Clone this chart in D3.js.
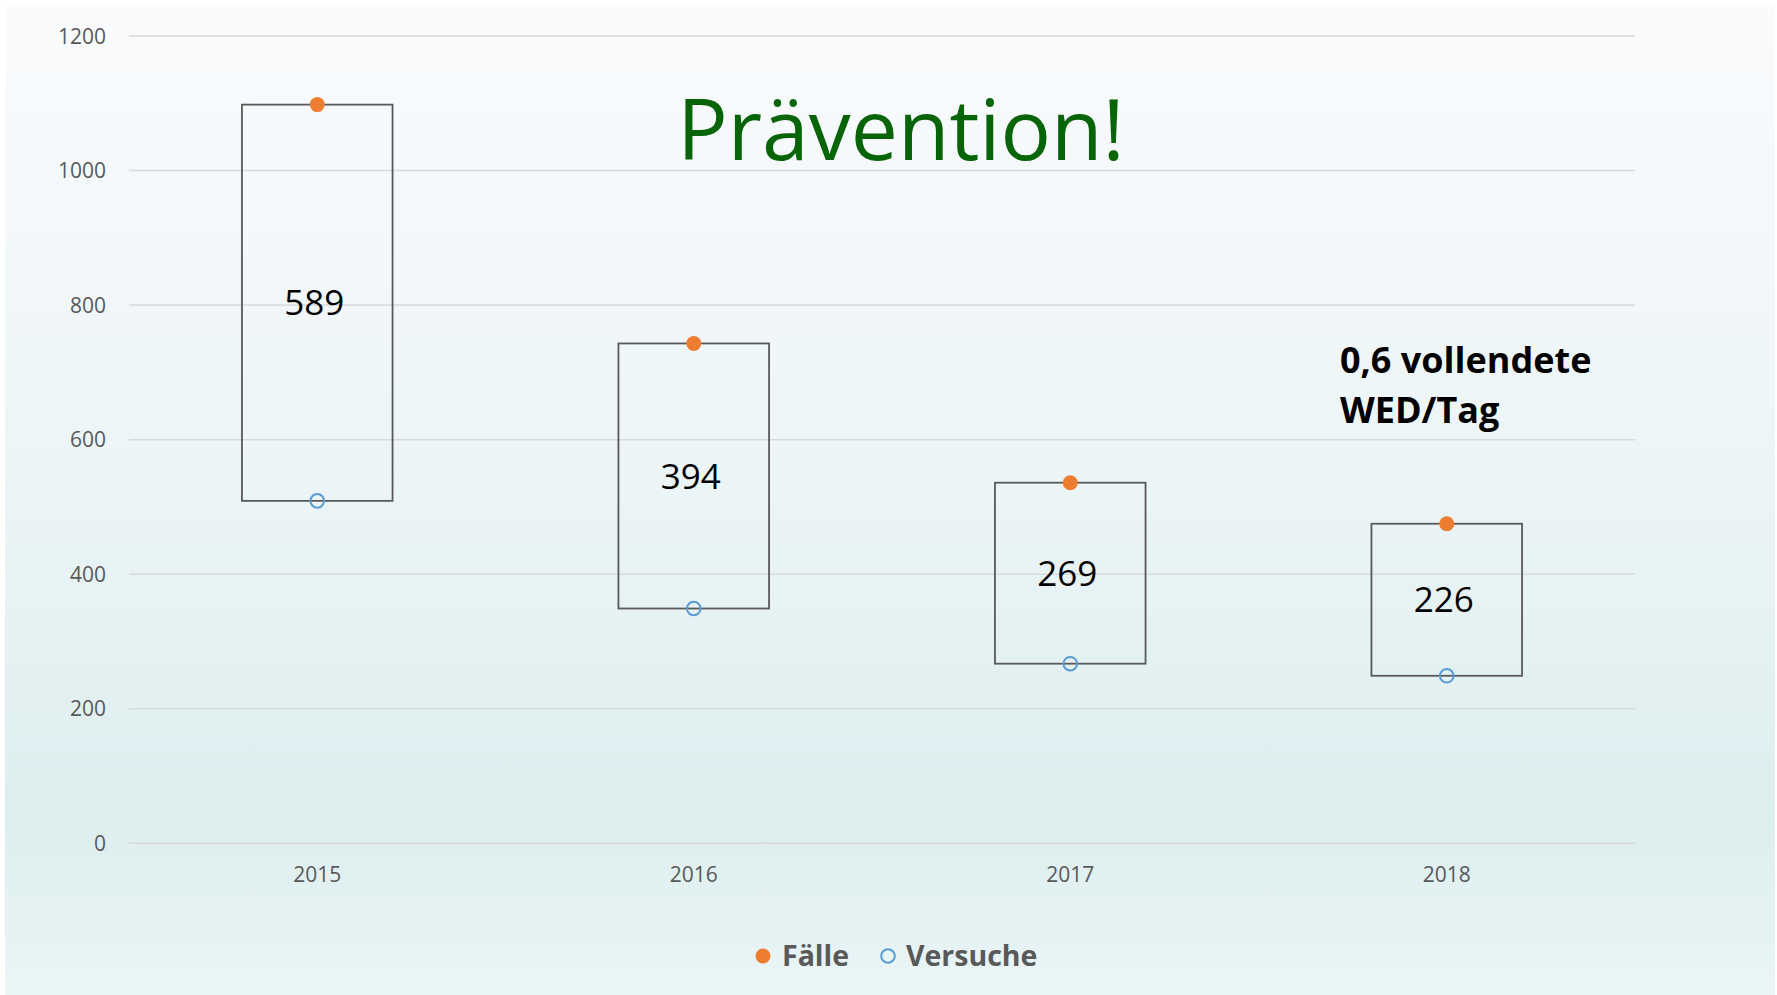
<!DOCTYPE html>
<html>
<head>
<meta charset="utf-8">
<script src="https://d3js.org/d3.v7.min.js"></script>
<style>
  body { margin: 0; background: #fff; }
  svg { display: block; font-family: "Open Sans", sans-serif; }
  .tick-label { font-size: 21px; fill: #595959; }
</style>
</head>
<body>
<svg id="chart" width="1777" height="995"></svg>
<script>
  // data
  var years    = ["2015", "2016", "2017", "2018"]
  var faelle   = [1098, 743, 536, 475]   // filled orange dots (top of box)
  var versuche = [509, 349, 267, 249]    // hollow blue dots (bottom of box)
  var yTicks   = [0, 200, 400, 600, 800, 1000, 1200]
  var title    = "Prävention!"
  var note     = ["0,6 vollendete", "WED/Tag"]

  var svg = d3.select('#chart')
  var plotLeft = 129, plotRight = 1635, plotTop = 36, plotBottom = 843.3

  // background gradient
  var grad = svg.append('defs').append('linearGradient')
    .attr('id', 'bg').attr('x1', 0).attr('y1', 0).attr('x2', 0).attr('y2', 1)
  grad.append('stop').attr('offset', '0%').attr('stop-color', '#fafbfd')
  grad.append('stop').attr('offset', '45%').attr('stop-color', '#edf5f7')
  grad.append('stop').attr('offset', '82%').attr('stop-color', '#ddeeef')
  grad.append('stop').attr('offset', '100%').attr('stop-color', '#eaf5f6')

  svg.append('rect')
    .attr('x', 5).attr('y', 5).attr('width', 1770).attr('height', 990)
    .attr('fill', 'url(#bg)')

  var x = d3.scalePoint().domain(years).range([plotLeft, plotRight]).padding(0.5)
  var y = d3.scaleLinear().domain([0, 1200]).range([plotBottom, plotTop])
  var boxW = x.step() * 0.4

  // gridlines + y labels
  svg.append('g').selectAll('line')
    .data(yTicks)
    .enter().append('line')
    .attr('x1', plotLeft).attr('x2', plotRight)
    .attr('y1', function(d) { return y(d) })
    .attr('y2', function(d) { return y(d) })
    .attr('stroke', '#d9d9d9')
    .attr('stroke-width', 1.5)

  svg.append('g').selectAll('text')
    .data(yTicks)
    .enter().append('text')
    .attr('class', 'tick-label')
    .attr('x', 106)
    .attr('y', function(d) { return y(d) })
    .attr('dy', '0.36em')
    .attr('text-anchor', 'end')
    .text(function(d) { return d })

  // x labels
  svg.append('g').selectAll('text')
    .data(years)
    .enter().append('text')
    .attr('class', 'tick-label')
    .attr('x', function(d) { return x(d) })
    .attr('y', 882)
    .attr('text-anchor', 'middle')
    .text(function(d) { return d })

  // high-low boxes
  var boxes = svg.append('g').selectAll('g')
    .data(years)
    .enter().append('g')

  boxes.append('rect')
    .attr('x', function(d) { return x(d) - boxW / 2 })
    .attr('y', function(d, i) { return y(faelle[i]) })
    .attr('width', boxW)
    .attr('height', function(d, i) { return y(versuche[i]) - y(faelle[i]) })
    .attr('fill', 'none')
    .attr('stroke', '#595959')
    .attr('stroke-width', 1.8)

  // difference label in the box
  boxes.append('text')
    .attr('x', function(d) { return x(d) - 3 })
    .attr('y', function(d, i) { return y((faelle[i] + versuche[i]) / 2) })
    .attr('dy', '0.36em')
    .attr('text-anchor', 'middle')
    .style('font-size', '35px')
    .attr('fill', '#000')
    .text(function(d, i) { return faelle[i] - versuche[i] })

  boxes.append('circle')
    .attr('cx', function(d) { return x(d) })
    .attr('cy', function(d, i) { return y(faelle[i]) })
    .attr('r', 7.5)
    .attr('fill', '#ed7d31')

  boxes.append('circle')
    .attr('cx', function(d) { return x(d) })
    .attr('cy', function(d, i) { return y(versuche[i]) })
    .attr('r', 6.8)
    .attr('fill', 'none')
    .attr('stroke', '#5b9bd5')
    .attr('stroke-width', 2)

  // title
  svg.append('text')
    .attr('x', 901).attr('y', 160)
    .attr('text-anchor', 'middle')
    .style('font-size', '84px')
    .attr('fill', '#076407')
    .text(title)

  // annotation
  svg.append('text')
    .attr('x', 1340).attr('y', 373)
    .style('font-size', '36px')
    .style('font-weight', 'bold')
    .attr('fill', '#000')
    .selectAll('tspan')
    .data(note)
    .enter().append('tspan')
    .attr('x', 1340)
    .attr('dy', function(d, i) { return i ? 50 : 0 })
    .text(function(d) { return d })

  // legend
  var legend = svg.append('g').style('font-size', '28.5px').style('font-weight', 'bold')
  legend.append('circle').attr('cx', 763).attr('cy', 956).attr('r', 7.5).attr('fill', '#ed7d31')
  legend.append('text').attr('x', 782).attr('y', 966).attr('fill', '#595959').text('Fälle')
  legend.append('circle').attr('cx', 888).attr('cy', 956).attr('r', 6.8)
    .attr('fill', 'none').attr('stroke', '#5b9bd5').attr('stroke-width', 2)
  legend.append('text').attr('x', 906).attr('y', 966).attr('fill', '#595959').text('Versuche')
</script>
</body>
</html>
